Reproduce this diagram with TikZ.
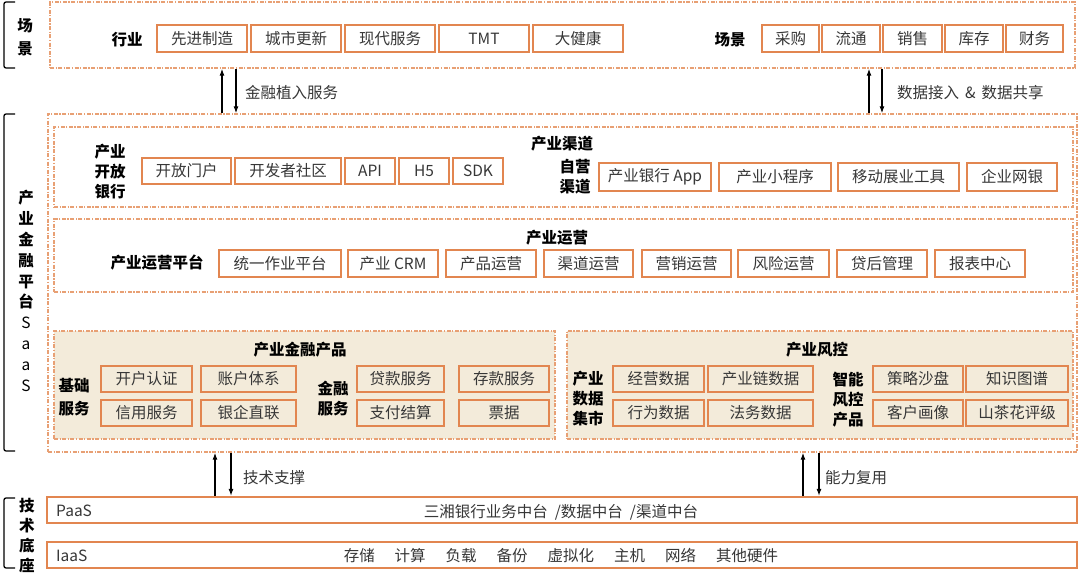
\documentclass[tikz,border=0pt]{standalone}
\usepackage{fontspec}
\setmainfont{Noto Sans CJK SC}
\usetikzlibrary{arrows.meta}
\definecolor{boxor}{RGB}{226,134,80}
\definecolor{dashor}{RGB}{232,160,116}
\definecolor{beige}{RGB}{243,235,218}
\definecolor{txt}{RGB}{55,55,55}
\newcommand\fs{\fontsize{15.5}{18}\selectfont}
% \mybox[style]{name}{x1}{y1}{x2}{y2}{text}
\newcommand\mybox[7][item]{\node[#1, minimum width={(#5)-(#3)}, minimum height={(#6)-(#4)}] (#2) at ({((#3)+(#5))/2},{((#4)+(#6))/2}) {#7};}
\begin{document}
\begin{tikzpicture}[x=1pt,y=-1pt,
  item/.style={draw=boxor, line width=2.3pt, fill=white, inner sep=0pt, font=\fs, text=txt},
  bitem/.style={item, fill=beige},
  dbox/.style={draw=dashor, line width=1.4pt, dash pattern=on 4pt off 1.5pt on 1.2pt off 1.5pt, inner sep=0pt},
  bdbox/.style={dbox, fill=beige},
  lbl/.style={font=\bfseries\fontsize{15.5}{20}\selectfont, align=center, text=black, inner sep=0pt},
  note/.style={font=\fs, text=txt, inner sep=0pt},
  arr/.style={-{Latex[length=7pt,width=5pt]}, line width=1.1pt, black},
  brk/.style={line width=1.3pt, black, rounded corners=2pt}]
\useasboundingbox (0,0) rectangle (1080,575);
\fill[white] (0,0) rectangle (1080,575);

% ---------- brackets and side labels ----------
\draw[brk] (15,2) -- (4,2) -- (4,68) -- (15,68);
\node[lbl, font=\bfseries\fontsize{15.5}{23}\selectfont] (scnlbl) at (25,37) {场\\景};
\draw[brk] (15,114) -- (4,114) -- (4,451) -- (15,451);
\node[lbl, font=\bfseries\fontsize{15.5}{20.8}\selectfont] (saaslbl) at (26,291) {产\\业\\金\\融\\平\\台\\{\mdseries S}\\{\mdseries a}\\{\mdseries a}\\{\mdseries S}};
\draw[brk] (15,498) -- (4,498) -- (4,568) -- (15,568);
\node[lbl] (techlbl) at (27,536) {技\\术\\底\\座};

% ---------- scene layer ----------
\mybox[dbox]{scene}{50}{2}{1075}{68}{}
\node[lbl] (hy) at (127,40) {行业};
\mybox{s1}{157}{25}{247}{52}{先进制造}
\mybox{s2}{251}{25}{341}{52}{城市更新}
\mybox{s3}{345}{25}{435}{52}{现代服务}
\mybox{s4}{439}{25}{529}{52}{TMT}
\mybox{s5}{533}{25}{623}{52}{大健康}
\node[lbl] (cj) at (730,40) {场景};
\mybox{c1}{762}{25}{819}{52}{采购}
\mybox{c2}{822}{25}{880}{52}{流通}
\mybox{c3}{883}{25}{942}{52}{销售}
\mybox{c4}{945}{25}{1003}{52}{库存}
\mybox{c5}{1006}{25}{1063}{52}{财务}

% ---------- SaaS platform ----------
\mybox[dbox]{big}{48}{114}{1077}{452}{}
\mybox[dbox]{chan}{54}{127}{1073}{207}{}
\mybox[dbox]{ops}{54}{219}{1073}{292}{}
\mybox[bdbox]{prod}{54}{331}{555}{439}{}
\mybox[bdbox]{risk}{567}{331}{1073}{439}{}

% channels
\node[lbl] (kfyh) at (110,172) {产业\\开放\\银行};
\mybox{k1}{142}{158}{231}{184}{开放门户}
\mybox{k2}{235}{158}{341}{184}{开发者社区}
\mybox{k3}{345}{158}{395}{184}{API}
\mybox{k4}{399}{158}{449}{184}{H5}
\mybox{k5}{453}{158}{503}{184}{SDK}
\node[lbl] (cyqd) at (562,144) {产业渠道};
\node[lbl] (zyqd) at (575,177) {自营\\渠道};
\mybox{z1}{599}{163}{711}{191}{产业银行 App}
\mybox{z2}{719}{163}{831}{191}{产业小程序}
\mybox{z3}{838}{163}{959}{191}{移动展业工具}
\mybox{z4}{967}{163}{1057}{191}{企业网银}

% operations
\node[lbl] (cyyy) at (557,238) {产业运营};
\node[lbl] (yypt) at (157,263) {产业运营平台};
\mybox{o1}{219}{250}{341}{277}{统一作业平台}
\mybox{o2}{348}{250}{438}{277}{产业 CRM}
\mybox{o3}{446}{250}{536}{277}{产品运营}
\mybox{o4}{544}{250}{633}{277}{渠道运营}
\mybox{o5}{642}{250}{731}{277}{营销运营}
\mybox{o6}{738}{250}{829}{277}{风险运营}
\mybox{o7}{837}{250}{927}{277}{贷后管理}
\mybox{o8}{935}{250}{1025}{277}{报表中心}

% products
\node[lbl] (jrcp) at (300,350) {产业金融产品};
\node[lbl, font=\bfseries\fontsize{15.5}{23}\selectfont] (jcfw) at (74,397) {基础\\服务};
\mybox[bitem]{p1}{101}{366}{192}{392}{开户认证}
\mybox[bitem]{p2}{201}{366}{296}{392}{账户体系}
\mybox[bitem]{p3}{101}{400}{192}{426}{信用服务}
\mybox[bitem]{p4}{201}{400}{296}{426}{银企直联}
\node[lbl] (jrfw) at (333,399) {金融\\服务};
\mybox[bitem]{p5}{357}{366}{444}{392}{贷款服务}
\mybox[bitem]{p6}{459}{366}{549}{392}{存款服务}
\mybox[bitem]{p7}{357}{400}{444}{426}{支付结算}
\mybox[bitem]{p8}{459}{400}{549}{426}{票据}

% risk
\node[lbl] (cyfk) at (817,350) {产业风控};
\node[lbl] (sjjs) at (588,399) {产业\\数据\\集市};
\mybox[bitem]{r1}{613}{366}{704}{392}{经营数据}
\mybox[bitem]{r2}{708}{366}{813}{392}{产业链数据}
\mybox[bitem]{r3}{613}{400}{704}{426}{行为数据}
\mybox[bitem]{r4}{708}{400}{813}{426}{法务数据}
\node[lbl] (znfk) at (848,400) {智能\\风控\\产品};
\mybox[bitem]{r5}{873}{366}{963}{392}{策略沙盘}
\mybox[bitem]{r6}{966}{366}{1068}{392}{知识图谱}
\mybox[bitem]{r7}{873}{400}{963}{426}{客户画像}
\mybox[bitem]{r8}{966}{400}{1068}{426}{山茶花评级}

% ---------- technical base ----------
\mybox{paas}{47}{497}{1077}{523}{}
\node[note, anchor=west] (paasl) at (56,511) {PaaS};
\node[note] (paasc) at (561,512) {三湘银行业务中台\hspace{7pt}/数据中台\hspace{7pt}/渠道中台};
\mybox{iaas}{47}{542}{1077}{568}{}
\node[note, anchor=west] (iaasl) at (56,556) {IaaS};
\node[note] (iaasc) at (561,556) {存储\hspace{20pt}计算\hspace{20pt}负载\hspace{20pt}备份\hspace{20pt}虚拟化\hspace{20pt}主机\hspace{20pt}网络\hspace{20pt}其他硬件};

% ---------- connectors ----------
\coordinate (a1) at (222,0); \coordinate (a2) at (236,0);
\coordinate (a3) at (869,0); \coordinate (a4) at (882,0);
\coordinate (b1) at (215,0); \coordinate (b2) at (231,0);
\coordinate (b3) at (803,0); \coordinate (b4) at (819,0);
\draw[arr] (a1 |- big.north) -- (a1 |- scene.south);
\draw[arr] (a2 |- scene.south) -- (a2 |- big.north);
\draw[arr] (a3 |- big.north) -- (a3 |- scene.south);
\draw[arr] (a4 |- scene.south) -- (a4 |- big.north);
\draw[arr] (b1 |- paas.north) -- (b1 |- big.south);
\draw[arr] (b2 |- big.south) -- (b2 |- paas.north);
\draw[arr] (b3 |- paas.north) -- (b3 |- big.south);
\draw[arr] (b4 |- big.south) -- (b4 |- paas.north);
\node[note, anchor=west] (l1) at (245,93) {金融植入服务};
\node[note, anchor=west] (l2) at (897,93) {数据接入\hspace{6pt}\&\hspace{6pt}数据共享};
\node[note, anchor=west] (l3) at (243,478) {技术支撑};
\node[note, anchor=west] (l4) at (825,478) {能力复用};
\end{tikzpicture}
\end{document}
